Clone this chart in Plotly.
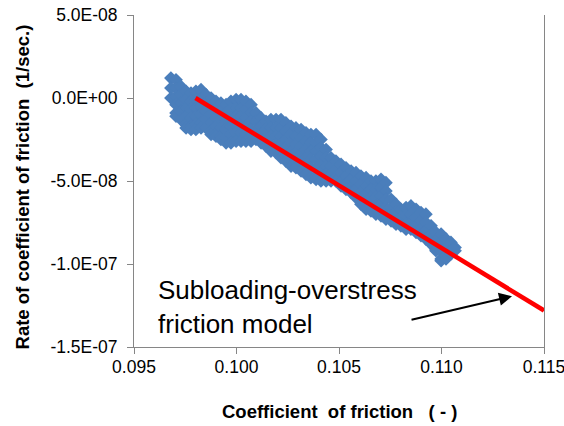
import plotly.graph_objects as go

# ---- Data ----
# Measured points, grouped by coefficient-of-friction column; rates in units of 1e-9 (1/sec.)
friction_cols = [0.09680, 0.09705, 0.09729, 0.09754, 0.09778, 0.09802, 0.09827, 0.09851,
                 0.09876, 0.09900, 0.09924, 0.09949, 0.09973, 0.09998, 0.10022, 0.10046,
                 0.10071, 0.10095, 0.10120, 0.10144, 0.10168, 0.10193, 0.10217, 0.10241,
                 0.10266, 0.10290, 0.10315, 0.10339, 0.10363, 0.10388, 0.10412, 0.10437,
                 0.10461, 0.10485, 0.10510, 0.10534, 0.10559, 0.10583, 0.10607, 0.10632,
                 0.10656, 0.10680, 0.10705, 0.10729, 0.10754, 0.10778, 0.10802, 0.10827,
                 0.10851, 0.10876, 0.10900, 0.10924, 0.10949, 0.10973, 0.10998, 0.11022,
                 0.11046, 0.11066]
rate_cols_nano = [
    [12, 6, 0], [11, 6, 1, -4, -9, -11], [7, 2, -3, -8, -13], [4, -1, -6, -11, -16, -18],
    [3, -2, -7, -12, -17, -19], [4, -1, -6, -11, -16, -19], [5, 0, -5, -10, -15, -18],
    [2, -3, -8, -13, -18], [0, -5, -10, -15, -20, -22], [-2, -7, -12, -17, -22, -23],
    [-3, -8, -13, -18, -23, -25], [-4, -9, -14, -19, -24, -27], [-2, -7, -12, -17, -22, -27],
    [-1, -6, -11, -16, -21, -26], [-1, -6, -11, -16, -21, -26], [-2, -7, -12, -17, -22, -26],
    [-4, -9, -14, -19, -24, -26], [-9, -14, -19, -25], [-12, -17, -22, -27], [-14, -19, -24, -29],
    [-13, -18, -23, -28, -32], [-13, -18, -23, -28, -33], [-13, -18, -23, -28, -33, -36],
    [-15, -20, -25, -30, -35, -38], [-17, -22, -27, -32, -37, -41], [-18, -23, -28, -33, -38, -42],
    [-19, -24, -29, -34, -39, -44], [-21, -26, -31, -36, -41, -46], [-22, -27, -32, -37, -42, -48],
    [-22, -27, -32, -37, -42, -47, -49], [-25, -30, -35, -40, -45, -50], [-31, -36, -41, -46, -50],
    [-36, -41, -46, -50], [-38, -43, -48, -50], [-40, -45, -50, -53], [-42, -47, -52, -55],
    [-44, -49, -54, -57], [-45, -50, -55, -60], [-47, -52, -57, -62, -64], [-48, -53, -58, -63, -67],
    [-50, -55, -60, -65, -68], [-50, -55, -60, -65, -70], [-49, -54, -59, -64, -69, -71],
    [-51, -56, -61, -66, -71, -73], [-61, -66, -71, -74], [-64, -69, -74, -76], [-67, -72, -77],
    [-66, -71, -76, -79], [-65, -70, -75, -79], [-67, -72, -77, -81], [-69, -74, -79, -83],
    [-70, -75, -80, -85], [-77, -82, -87, -88], [-81, -86, -91, -92], [-82, -87, -92, -97, -98],
    [-85, -90, -95, -97], [-87, -92, -94], [-90, -92],
]

# Subloading-overstress friction model line
model_friction = [0.098, 0.115]
model_rate = [0.0, -1.28e-7]

# Tick labels
x_tickvals = [0.095, 0.100, 0.105, 0.110, 0.115]
x_ticktext = ["0.095", "0.100", "0.105", "0.110", "0.115"]
y_tickvals = [5e-8, 0.0, -5e-8, -1e-7, -1.5e-7]
y_ticktext = ["5.0E-08", "0.0E+00", "-5.0E-08", "-1.0E-07", "-1.5E-07"]

# ---- Build figure ----
meas_x, meas_y = [], []
for fx, col in zip(friction_cols, rate_cols_nano):
    for r in col:
        meas_x.append(fx)
        meas_y.append(r * 1e-9)

FONT = "Liberation Sans, Arial, sans-serif"
AXIS_GRAY = "#868686"

fig = go.Figure()
fig.add_trace(go.Scatter(
    x=meas_x, y=meas_y, mode="markers",
    marker=dict(symbol="diamond", size=10.5, color="#4A7EBB", line=dict(width=0)),
    showlegend=False, hoverinfo="skip"))
fig.add_trace(go.Scatter(
    x=model_friction, y=model_rate, mode="lines",
    line=dict(color="#FF0000", width=4.5),
    showlegend=False, hoverinfo="skip"))

fig.update_layout(
    width=564, height=426,
    margin=dict(l=134, r=20, t=15, b=79),
    paper_bgcolor="white", plot_bgcolor="white",
    font=dict(family=FONT, color="#000000"),
    xaxis=dict(range=[0.095, 0.115], tickvals=x_tickvals, ticktext=x_ticktext,
               showgrid=False, zeroline=False, showline=True, linecolor=AXIS_GRAY, linewidth=1,
               ticks="outside", ticklen=6, tickcolor=AXIS_GRAY, ticklabelstandoff=-2,
               ticklabeloverflow="allow", automargin=False,
               tickfont=dict(size=17.5, family=FONT, color="#000000")),
    yaxis=dict(range=[-1.5e-7, 5e-8], tickvals=y_tickvals, ticktext=y_ticktext,
               showgrid=False, zeroline=False, showline=True, mirror=True,
               linecolor=AXIS_GRAY, linewidth=1,
               ticks="outside", ticklen=6, tickcolor=AXIS_GRAY, ticklabelstandoff=6,
               ticklabeloverflow="allow", automargin=False,
               tickfont=dict(size=17.5, family=FONT, color="#000000")),
    annotations=[
        dict(text="Coefficient\u00a0 of friction\u00a0\u00a0 ( - )", xref="paper", yref="paper",
             x=0.5024, y=-0.1928, xanchor="center", yanchor="middle", showarrow=False,
             font=dict(size=18.5, family=FONT, color="#000000", weight="bold")),
        dict(text="Rate of coefficient of friction\u00a0 (1/sec.)", xref="paper", yref="paper",
             x=-0.272, y=0.482, xanchor="center", yanchor="middle", textangle=-90, showarrow=False,
             font=dict(size=18.5, family=FONT, color="#000000", weight="bold")),
        dict(text="Subloading-overstress<br>friction model", xref="paper", yref="paper",
             x=0.0537, y=0.1205, xanchor="left", yanchor="middle", align="left", showarrow=False,
             font=dict(size=26, family=FONT, color="#000000")),
        dict(text="", x=0.11344, y=-1.194e-7, xref="x", yref="y",
             ax=-102, ay=24, axref="pixel", ayref="pixel",
             showarrow=True, arrowhead=2, arrowsize=1.3, arrowwidth=2, arrowcolor="#000000"),
    ],
)

fig.write_html("out.html", config={"displayModeBar": False},
               post_script="document.body.style.margin='0px';document.body.style.overflow='hidden';")
